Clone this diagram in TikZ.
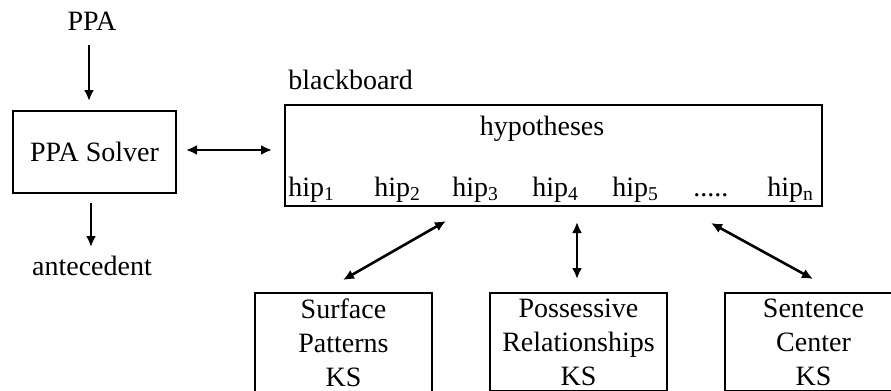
\documentclass[tikz,border=0pt]{standalone}
\usepackage{fontspec}
\setmainfont{Liberation Serif}
\usetikzlibrary{arrows.meta,calc}
\begin{document}
\begin{tikzpicture}[x=0.5pt,y=-0.5pt,
  font=\fontsize{14}{18}\selectfont,
  box/.style={draw,line width=1pt,inner sep=0pt},
  lbl/.style={inner sep=0pt,anchor=base},
  arr/.style={line width=1.3pt,-{Latex[length=5.5pt,width=5pt]}},
  darr/.style={line width=1.3pt,{Latex[length=5.5pt,width=5pt]}-{Latex[length=5.5pt,width=5pt]}},
  ksbox/.style={draw,line width=1pt,anchor=north,minimum width=88.5pt,
    text width=84pt,align=center,inner xsep=2pt,inner ysep=2.8pt,
    font=\fontsize{14}{17}\selectfont}]
\useasboundingbox (0,0) rectangle (891,391);
\clip (0,0) rectangle (891,391);

% solver column
\node[lbl] (ppa) at (92,31) {PPA};
\node[box,minimum width=81.5pt,minimum height=41pt] (solver) at (94.5,152) {PPA Solver};
\node[lbl] (ante) at (92,275) {antecedent};

% blackboard
\node[box,minimum width=268.5pt,minimum height=50.5pt] (bb) at (553.5,155.5) {};
\node[lbl,anchor=base west] (bblabel) at (288,90) {blackboard};
\node[lbl] (hyp) at (542,135) {hypotheses};
\node[lbl,anchor=base west] (hip1) at (288,196) {hip\textsubscript{1}};
\node[lbl,anchor=base west] (hip2) at (374,196) {hip\textsubscript{2}};
\node[lbl,anchor=base west] (hip3) at (452,196) {hip\textsubscript{3}};
\node[lbl,anchor=base west] (hip4) at (532,196) {hip\textsubscript{4}};
\node[lbl,anchor=base west] (hip5) at (612,196) {hip\textsubscript{5}};
\node[lbl,anchor=base west] (dots) at (693,196) {.....};
\node[lbl,anchor=base west] (hipn) at (767,196) {hip\textsubscript{n}};

% knowledge sources
\node[ksbox] (ks1) at (343.5,292) {Surface\\Patterns\\KS};
\node[ksbox] (ks2) at (578.5,292) {Possessive\\Relationships\\KS};
\node[ksbox] (ks3) at (813.5,292) {Sentence\\Center\\KS};

% connectors
\draw[arr] ($(ppa.base)+(-3,14)$) -- ($(solver.north)+(-5.5,-9)$);
\draw[arr] ($(solver.south)+(-3.5,9)$) -- ($(ante.base)+(-1,-28)$);
\draw[darr] ($(solver.east)+(9,-2)$) -- ($(bb.west |- solver.east)+(-12,-2)$);
\draw[darr] ($(ks1.north)+(-0.5,-12)$) -- ($(bb.south west)+(162,14)$);
\draw[darr] ($(ks2.north)+(-1.5,-13)$) -- ($(ks2.north |- bb.south)+(-1.5,15)$);
\draw[darr] ($(ks3.north)+(-0.5,-13)$) -- ($(bb.south west)+(427,16)$);
\end{tikzpicture}
\end{document}
